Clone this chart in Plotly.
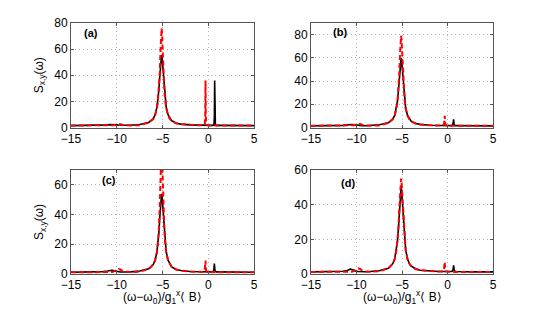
import plotly.graph_objects as go

omega = [-15, -13, -11.5, -11, -10.7, -10.5, -10.3, -10, -9.8, -9.6, -9.4, -9.1, -8.5, -7.5, -6.5,
         -6, -5.8, -5.6, -5.5, -5.4, -5.3, -5.2, -5.15, -5.1, -5.05, -5, -4.9, -4.8, -4.7, -4.6, -4.4, -4.2, -4,
         -3.5, -3, -2, -1, -0.5,
         -0.38, -0.33, -0.3, -0.27, -0.22, -0.1,
         0.2, 0.5, 0.62, 0.67, 0.7, 0.73, 0.78, 0.9,
         1.5, 3, 5]

black_a = [1.4, 1.5, 1.7, 2.0, 2.2, 2.3, 2.2, 2.0, 1.9, 1.8, 1.7, 1.6, 1.7, 2.3, 3.9,
           6.9, 9.9, 15.8, 20.9, 28.5, 38.9, 50.1, 54.0, 55.5, 54.0, 50.1, 38.9, 28.5, 20.9, 15.8, 9.9, 6.9, 5.2,
           3.3, 2.6, 2.0, 1.7, 1.6,
           1.6, 1.6, 1.6, 1.6, 1.6, 1.6,
           1.6, 1.6, 2.0, 8.0, 36.0, 8.0, 2.0, 1.6,
           1.5, 1.4, 1.4]
red_a = [1.5, 1.5, 1.5, 1.5, 1.5, 1.6, 1.8, 2.3, 2.6, 2.5, 2.1, 1.7, 1.5, 1.8, 3.8,
         6.5, 9.5, 15.0, 20.5, 28.5, 42.0, 62.0, 72.0, 76.0, 72.0, 62.0, 42.0, 28.5, 20.5, 15.0, 9.5, 6.5, 5.1,
         3.2, 2.5, 1.9, 1.7, 1.7,
         2.5, 10.0, 36.0, 10.0, 2.5, 1.7,
         1.5, 1.5, 1.5, 1.5, 1.5, 1.5, 1.5, 1.5,
         1.5, 1.5, 1.5]

black_b = [1.4, 1.5, 1.8, 2.3, 2.7, 2.6, 2.3, 1.9, 1.7, 1.6, 1.6, 1.5, 1.6, 2.4, 4.1,
           7.4, 10.6, 17.0, 22.6, 30.8, 42.0, 54.2, 58.4, 60.0, 58.4, 54.2, 42.0, 30.8, 22.6, 17.0, 10.6, 7.4, 5.5,
           3.5, 2.7, 2.0, 1.7, 1.6,
           1.6, 1.6, 1.6, 1.6, 1.6, 1.6,
           1.6, 1.6, 3.5, 7.0, 4.5, 2.8, 2.0, 1.6,
           1.5, 1.4, 1.4]
red_b = [1.5, 1.5, 1.5, 1.5, 1.5, 1.6, 1.9, 2.8, 3.2, 3.0, 2.4, 1.8, 1.5, 1.8, 4.0,
         7.2, 10.3, 16.5, 22.5, 31.5, 46.0, 66.0, 75.0, 79.0, 75.0, 66.0, 46.0, 31.5, 22.5, 16.5, 10.3, 7.2, 5.3,
         3.4, 2.6, 1.9, 1.7, 1.6,
         3.0, 6.5, 10.0, 5.0, 2.2, 1.7,
         1.5, 1.5, 1.5, 1.5, 1.5, 1.5, 1.5, 1.5,
         1.5, 1.5, 1.5]

black_c = [1.2, 1.3, 1.6, 2.0, 2.6, 2.5, 2.1, 1.6, 1.4, 1.3, 1.3, 1.3, 1.4, 2.0, 3.5,
           6.5, 9.4, 15.2, 20.2, 27.6, 37.7, 48.7, 52.6, 54.0, 52.6, 48.7, 37.7, 27.6, 20.2, 15.2, 9.4, 6.5, 4.8,
           3.0, 2.3, 1.7, 1.5, 1.4,
           1.4, 1.4, 1.4, 1.4, 1.4, 1.4,
           1.4, 1.4, 3.0, 7.0, 4.5, 2.5, 1.8, 1.4,
           1.3, 1.2, 1.2]
red_c = [1.2, 1.2, 1.2, 1.2, 1.2, 1.3, 1.8, 2.8, 3.3, 3.0, 2.2, 1.6, 1.3, 1.6, 3.4,
         6.4, 9.3, 15.0, 20.5, 29.0, 45.0, 70.0, 82.0, 88.0, 82.0, 70.0, 45.0, 29.0, 20.5, 15.0, 9.3, 6.4, 4.7,
         3.0, 2.3, 1.7, 1.4, 1.4,
         3.5, 7.0, 9.0, 4.5, 2.0, 1.4,
         1.2, 1.2, 1.2, 1.2, 1.2, 1.2, 1.2, 1.2,
         1.2, 1.2, 1.2]

black_d = [1.2, 1.3, 1.6, 2.0, 2.8, 2.6, 2.0, 1.5, 1.4, 1.3, 1.3, 1.3, 1.4, 1.9, 3.3,
           6.1, 8.8, 14.1, 18.8, 25.6, 35.0, 45.1, 48.7, 50.0, 48.7, 45.1, 35.0, 25.6, 18.8, 14.1, 8.8, 6.1, 4.6,
           2.9, 2.2, 1.6, 1.4, 1.4,
           1.4, 1.4, 1.4, 1.4, 1.4, 1.4,
           1.4, 1.4, 2.8, 5.0, 3.8, 2.5, 1.7, 1.4,
           1.3, 1.2, 1.2]
red_d = [1.2, 1.2, 1.2, 1.2, 1.2, 1.3, 1.8, 3.0, 3.3, 2.9, 2.1, 1.5, 1.3, 1.6, 3.3,
         6.0, 8.7, 14.0, 18.8, 26.0, 37.0, 48.0, 53.0, 55.0, 53.0, 48.0, 37.0, 26.0, 18.8, 14.0, 8.7, 6.0, 4.6,
         2.9, 2.2, 1.6, 1.4, 1.4,
         3.0, 6.0, 7.0, 3.5, 1.8, 1.4,
         1.2, 1.2, 1.2, 1.2, 1.2, 1.2, 1.2, 1.2,
         1.2, 1.2, 1.2]

panel_labels = ["(a)", "(b)", "(c)", "(d)"]
y_max = [80, 90, 70, 60]
y_tick_vals = [[0, 20, 40, 60, 80], [0, 20, 40, 60, 80], [0, 20, 40, 60], [0, 20, 40, 60]]
x_tick_vals = [-15, -10, -5, 0, 5]
label_pos = [(-12.8, 72), (-11.8, 82), (-10.8, 63), (-10.9, 52.5)]

# page has an 8px body margin; figure sized to fit the window
OFF = 8
W, H = 545 - OFF, 309 - OFF


def px(v):
    return (v - OFF) / W


def py(v):
    return 1 - (v - OFF) / H


x_domains = [(px(71), px(254)), (px(311), px(493)), (px(71), px(254)), (px(311), px(493))]
y_domains = [(py(127.5), py(23)), (py(127.5), py(23)), (py(274), py(170)), (py(274), py(170))]

blacks = [black_a, black_b, black_c, black_d]
reds = [red_a, red_b, red_c, red_d]

FONT = "Liberation Sans, Arial, sans-serif"
fig = go.Figure()
for i in range(4):
    xa = "x" if i == 0 else f"x{i+1}"
    ya = "y" if i == 0 else f"y{i+1}"
    fig.add_trace(go.Scatter(x=omega, y=blacks[i], mode="lines", xaxis=xa, yaxis=ya,
                             line=dict(color="black", width=1.6), showlegend=False))
    fig.add_trace(go.Scatter(x=omega, y=reds[i], mode="lines", xaxis=xa, yaxis=ya,
                             line=dict(color="#ff0000", width=2, dash="5px,3px"), showlegend=False))
    axcommon = dict(showline=True, linecolor="#555", linewidth=1, mirror="ticks", ticks="inside",
                    ticklen=3, tickcolor="#555", showgrid=True, gridcolor="#b0b0b0", griddash="1px,3px",
                    gridwidth=1, zeroline=False, automargin=False,
                    tickfont=dict(family=FONT, size=12, color="black"))
    xkey = "xaxis" if i == 0 else f"xaxis{i+1}"
    ykey = "yaxis" if i == 0 else f"yaxis{i+1}"
    fig.layout[xkey] = dict(domain=x_domains[i], range=[-15, 5], tickvals=x_tick_vals,
                            anchor=ya, **axcommon)
    fig.layout[ykey] = dict(domain=y_domains[i], range=[0, y_max[i]], tickvals=y_tick_vals[i],
                            anchor=xa, **axcommon)
    fig.add_annotation(x=label_pos[i][0], y=label_pos[i][1], xref=xa, yref=ya,
                       text=f"<b>{panel_labels[i]}</b>", showarrow=False,
                       xanchor="center", yanchor="middle",
                       font=dict(family=FONT, size=11, color="black"))

for yc in [(py(127.5) + py(23)) / 2, (py(274) + py(170)) / 2]:
    fig.add_annotation(x=px(40), y=yc, xref="paper", yref="paper", textangle=-90,
                       xanchor="center", yanchor="middle",
                       text="S<sub>x,y</sub>(ω)", showarrow=False,
                       font=dict(family=FONT, size=12, color="black"))
for xc in [px((71 + 254) / 2), px((311 + 493) / 2)]:
    fig.add_annotation(x=xc, y=py(297), xref="paper", yref="paper",
                       xanchor="center", yanchor="middle",
                       text="(ω−ω<sub>0</sub>)/g<sub>1</sub><sup>x</sup>⟨ B⟩", showarrow=False,
                       font=dict(family=FONT, size=12, color="black"))

fig.update_layout(template="none", width=W, height=H, margin=dict(l=0, r=0, t=0, b=0),
                  paper_bgcolor="white", plot_bgcolor="white")
fig.write_html("out.html")
